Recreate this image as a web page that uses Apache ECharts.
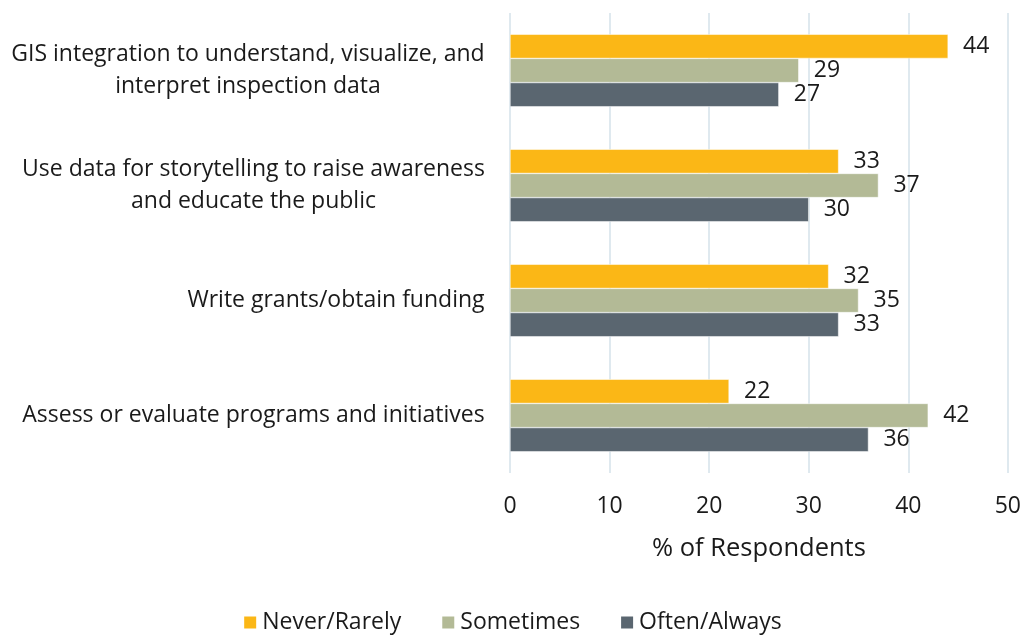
<!DOCTYPE html>
<html><head><meta charset="utf-8">
<script src="https://cdn.jsdelivr.net/npm/echarts@6/dist/echarts.min.js"></script>
<style>html,body{margin:0;padding:0;background:#fff}#c{width:1024px;height:635px}</style>
</head><body><div id="c"></div>
<script>
const categories = [
  "GIS integration to understand, visualize, and\ninterpret inspection data",
  "Use data for storytelling to raise awareness\nand educate the public",
  "Write grants/obtain funding",
  "Assess or evaluate programs and initiatives"
];
const seriesNames = ["Never/Rarely", "Sometimes", "Often/Always"];
const neverRarely = [44, 33, 32, 22];
const sometimes = [29, 37, 35, 42];
const oftenAlways = [27, 30, 33, 36];
const xTicks = [0, 10, 20, 30, 40, 50];
const colors = ["#FBB716", "#B3BA96", "#5A6670"];
const FONT = "'Open Sans'";
const FS = 23;

// measure widest line of each category so multi-line labels are centred within their block
const ctx = document.createElement('canvas').getContext('2d');
ctx.font = FS + "px " + FONT;
const catData = categories.map(c => {
  const w = Math.max.apply(null, c.split('\n').map(l => ctx.measureText(l).width));
  return {value: c, textStyle: {align: 'center', padding: [0, Math.ceil(w), 0, 0]}};
});

const chart = echarts.init(document.getElementById('c'));
const mk = (name, data, i) => ({
  name, type: 'bar', data,
  barGap: '0%', barCategoryGap: '37%',
  itemStyle: {color: colors[i], borderColor: '#ffffff', borderWidth: 0.5},
  label: {show: true, position: 'right', distance: 15, color: '#1a1a1a', fontSize: FS, fontFamily: FONT},
  emphasis: {disabled: true}
});
chart.setOption({
  animation: false,
  textStyle: {fontFamily: FONT},
  grid: {left: 510, right: 16, top: 13, bottom: 162, containLabel: false},
  legend: {
    bottom: -4, left: 'center', itemWidth: 14, itemHeight: 14, itemGap: 39,
    icon: 'rect',
    textStyle: {fontSize: FS, color: '#1a1a1a', fontFamily: FONT},
    data: seriesNames
  },
  xAxis: {
    type: 'value', min: xTicks[0], max: xTicks[xTicks.length - 1], interval: 10,
    name: '% of Respondents', nameLocation: 'middle', nameGap: 63,
    nameTextStyle: {fontSize: 25.5, color: '#1a1a1a', fontFamily: FONT},
    axisLine: {show: false}, axisTick: {show: false},
    axisLabel: {fontSize: FS, color: '#1a1a1a', margin: 22, fontFamily: FONT},
    splitLine: {show: true, lineStyle: {color: '#dfe9ef', width: 2}}
  },
  yAxis: {
    type: 'category', data: catData, inverse: true,
    axisLine: {show: false}, axisTick: {show: false},
    axisLabel: {fontSize: FS, color: '#1a1a1a', margin: 25, lineHeight: 32, fontFamily: FONT}
  },
  series: [mk(seriesNames[0], neverRarely, 0), mk(seriesNames[1], sometimes, 1), mk(seriesNames[2], oftenAlways, 2)]
});
</script></body></html>
